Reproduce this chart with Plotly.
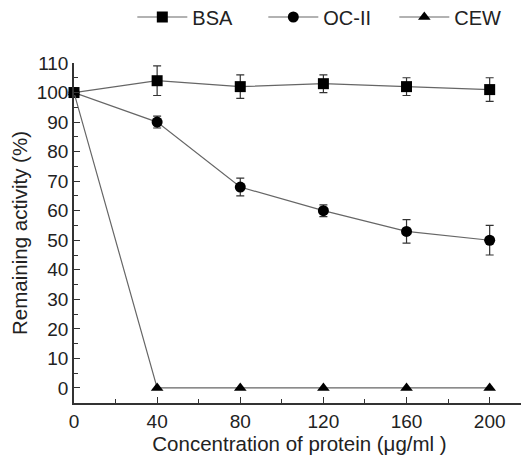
import plotly.graph_objects as go

conc = [0, 40, 80, 120, 160, 200]
bsa = [100, 104, 102, 103, 102, 101]
bsa_err = [0, 5, 4, 3, 3, 4]
oc = [100, 90, 68, 60, 53, 50]
oc_err = [0, 2, 3, 2, 4, 5]
cew = [100, 0, 0, 0, 0, 0]

x_ticks = [0, 40, 80, 120, 160, 200]
y_ticks = list(range(0, 111, 10))

FONT = "Liberation Sans, Arial"
line_col = "#666666"
fig = go.Figure()
for name, y, err, sym in [("BSA", bsa, bsa_err, "square"),
                          ("OC-II", oc, oc_err, "circle"),
                          ("CEW", cew, None, "triangle-up")]:
    kw = {}
    if err is not None:
        kw["error_y"] = dict(type="data", array=err, visible=True, color="#333333", thickness=1.2, width=4)
    fig.add_trace(go.Scatter(x=conc, y=y, name=name, mode="lines+markers",
                             line=dict(color=line_col, width=1.2),
                             marker=dict(symbol=sym, size=11, color="black"),
                             cliponaxis=False, **kw))

axis_common = dict(showline=True, linecolor="#333333", linewidth=1.5, ticks="inside",
                   ticklen=6, tickwidth=1.3, tickcolor="#333333", showgrid=False, zeroline=False,
                   automargin=False,
                   tickfont=dict(family=FONT, size=19, color="#222"),
                   title_font=dict(family=FONT, size=20.5, color="#222"))
fig.update_xaxes(range=[0, 217], tickvals=x_ticks,
                 minor=dict(dtick=20, tick0=0, ticklen=4, tickcolor="#333333", ticks="inside"),
                 title_text="Concentration of protein (μg/ml )", title_standoff=4, **axis_common)
fig.update_yaxes(range=[-5.1, 110], tickvals=y_ticks,
                 minor=dict(dtick=5, tick0=0, ticklen=4, tickcolor="#333333", ticks="inside"),
                 title_text="Remaining activity (%)", title_standoff=10, **axis_common)
fig.update_layout(width=521, height=457, plot_bgcolor="white", paper_bgcolor="white",
                  margin=dict(l=66, r=4, t=55, b=62, autoexpand=False),
                  font=dict(family=FONT, size=19, color="#222"),
                  legend=dict(orientation="h", x=0.565, xanchor="center",
                              y=1 + 46 / 340, yanchor="middle",
                              font=dict(size=20), entrywidth=66, itemwidth=50,
                              bgcolor="rgba(0,0,0,0)"))
fig.write_html("out.html")
